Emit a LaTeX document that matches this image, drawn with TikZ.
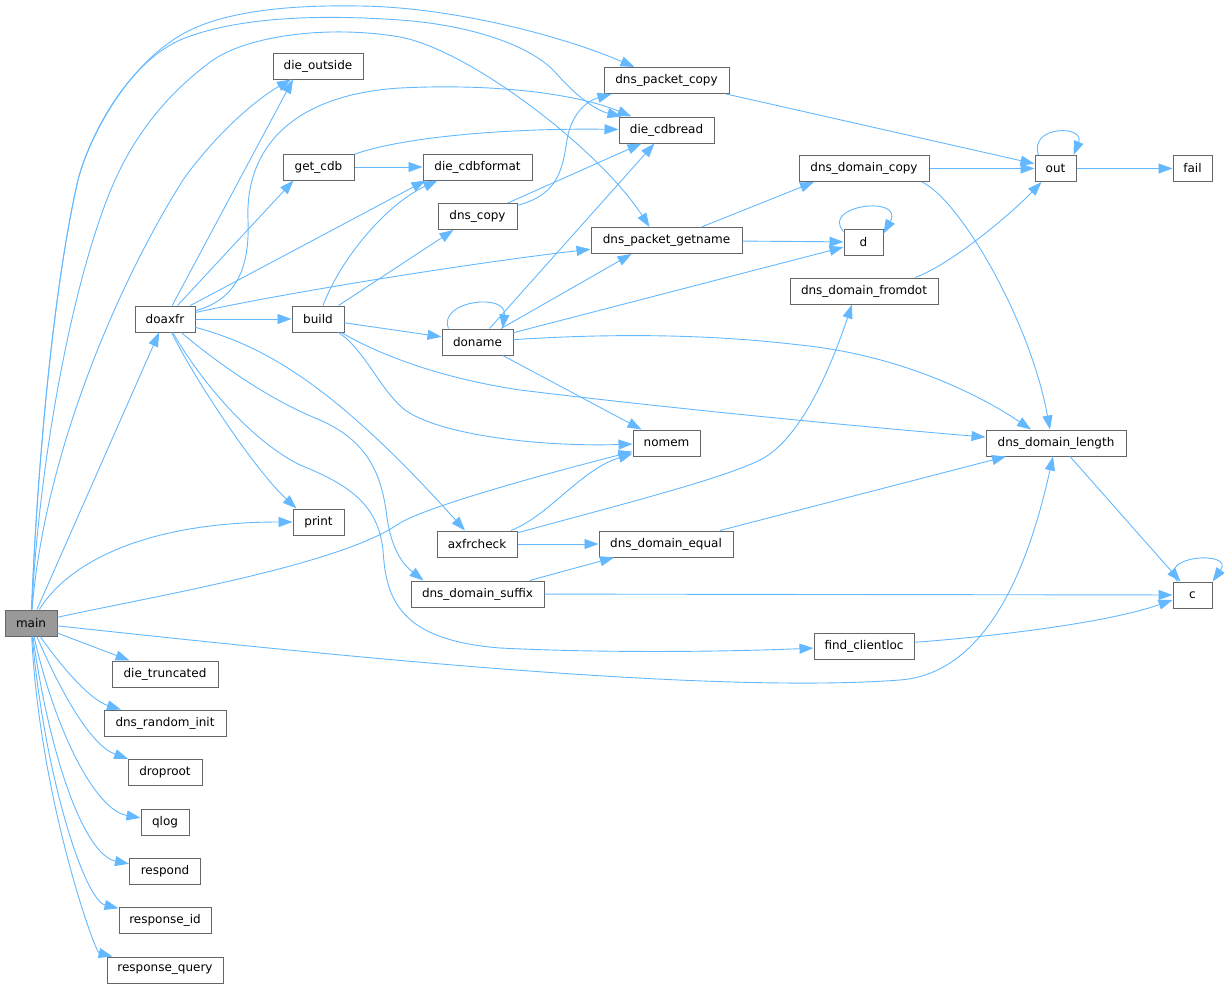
\documentclass[tikz,border=0pt]{standalone}
\usepackage{fontspec}
\setmainfont{DejaVu Sans}
\usetikzlibrary{arrows.meta}
\definecolor{edgeblue}{HTML}{63B8FF}
\definecolor{nodegray}{HTML}{666666}
\definecolor{mainfill}{HTML}{999999}
\tikzset{
  fn/.style={draw=nodegray, fill=white, line width=1pt, minimum height=26pt, inner sep=0pt, font=\fontsize{12}{14}\selectfont},
  edge/.style={draw=edgeblue, line width=0.9pt, -{Triangle[length=14pt,width=10pt,fill=edgeblue]}}
}
\begin{document}
\begin{tikzpicture}[x=1pt,y=-1pt]
\useasboundingbox (0,0) rectangle (1224,988);
% nodes
\node[fn, fill=mainfill, minimum width=52pt] (main) at (31,623) {main};
\node[fn, minimum width=60pt] (doaxfr) at (165,319) {doaxfr};
\node[fn, minimum width=90pt] (dieout) at (318,66) {die\_outside};
\node[fn, minimum width=71pt] (getcdb) at (318.5,167) {get\_cdb};
\node[fn, minimum width=52pt] (build) at (318,319) {build};
\node[fn, minimum width=51pt] (print) at (318.5,522) {print};
\node[fn, minimum width=106pt] (dietrunc) at (165,674) {die\_truncated};
\node[fn, minimum width=122pt] (dnsrand) at (165,723) {dns\_random\_init};
\node[fn, minimum width=74pt] (droproot) at (165,772.5) {droproot};
\node[fn, minimum width=48pt] (qlog) at (165,822) {qlog};
\node[fn, minimum width=71pt] (respond) at (165,871) {respond};
\node[fn, minimum width=92pt] (respid) at (165,920) {response\_id};
\node[fn, minimum width=116pt] (respquery) at (165,970) {response\_query};
\node[fn, minimum width=125pt] (pktcopy) at (666.5,80.5) {dns\_packet\_copy};
\node[fn, minimum width=95pt] (cdbread) at (666.5,130) {die\_cdbread};
\node[fn, minimum width=109pt] (cdbformat) at (477.5,167) {die\_cdbformat};
\node[fn, minimum width=79pt] (dnscopy) at (477.5,216.5) {dns\_copy};
\node[fn, minimum width=151pt] (getname) at (666.5,240.5) {dns\_packet\_getname};
\node[fn, minimum width=71pt] (doname) at (477.5,342) {doname};
\node[fn, minimum width=67pt] (nomem) at (666.5,443) {nomem};
\node[fn, minimum width=80pt] (axfrcheck) at (477,544) {axfrcheck};
\node[fn, minimum width=134pt] (dequal) at (666,544) {dns\_domain\_equal};
\node[fn, minimum width=133pt] (dsuffix) at (477.5,594) {dns\_domain\_suffix};
\node[fn, minimum width=130pt] (dcopy) at (864,168.5) {dns\_domain\_copy};
\node[fn, minimum width=41pt] (out) at (1055.5,168.5) {out};
\node[fn, minimum width=39pt] (fail) at (1192.5,168.5) {fail};
\node[fn, minimum width=39pt] (dd) at (863.5,242) {d};
\node[fn, minimum width=148pt] (fromdot) at (864,291) {dns\_domain\_fromdot};
\node[fn, minimum width=100pt] (findcl) at (864,646) {find\_clientloc};
\node[fn, minimum width=140pt] (dlength) at (1056,443) {dns\_domain\_length};
\node[fn, minimum width=39pt] (cc) at (1192.5,595) {c};
% main edges
\draw[edge] (main) -- (doaxfr);
\draw[edge] (main) .. controls (70,560) and (150,522) .. (print);
\draw[edge] (main) .. controls (160,595) and (340,565) .. (400,523) .. controls (430,505) and (560,470) .. (nomem);
\draw[edge] (main) .. controls (300,652) and (700,695) .. (900,680) .. controls (990,673) and (1030,560) .. (dlength);
\draw[edge] (main) -- (dietrunc);
\draw[edge] (main) .. controls (60,665) and (90,700) .. (dnsrand);
\draw[edge] (main) .. controls (60,690) and (90,745) .. (droproot);
\draw[edge] (main) .. controls (55,730) and (95,810) .. (qlog);
\draw[edge] (main) .. controls (50,760) and (85,855) .. (respond);
\draw[edge] (main) .. controls (45,780) and (85,900) .. (respid);
\draw[edge] (main) .. controls (40,800) and (95,952) .. (respquery);
\draw[edge] (main) .. controls (38,450) and (55,280) .. (78,180) .. controls (88,140) and (130,55) .. (197,27) .. controls (240,9) and (300,5) .. (360,6) .. controls (450,7) and (560,35) .. ([xshift=-32pt]pktcopy.north);
\draw[edge] (main) .. controls (38,450) and (55,280) .. (78,180) .. controls (88,140) and (125,65) .. (180,40) .. controls (240,15) and (330,15) .. (400,20) .. controls (470,25) and (530,45) .. (555,72) .. controls (575,95) and (595,110) .. ([xshift=-45pt]cdbread.north);
\draw[edge] (main) .. controls (40,450) and (75,270) .. (115,180) .. controls (135,136) and (165,95) .. (213,60) .. controls (250,35) and (330,25) .. (400,37) .. controls (470,50) and (600,150) .. ([xshift=-17pt]getname.north);
\draw[edge] (main) .. controls (45,450) and (120,280) .. (183,180) .. controls (215,135) and (255,100) .. ([xshift=-27pt]dieout.south);
% doaxfr edges
\draw[edge] (doaxfr) -- ([xshift=-25pt]dieout.south);
\draw[edge] (doaxfr) -- ([xshift=-25pt]getcdb.south);
\draw[edge] (doaxfr) -- ([xshift=-52pt]cdbformat.south);
\draw[edge] (doaxfr) .. controls (235,300) and (250,270) .. (248,220) .. controls (245,150) and (290,95) .. (400,88) .. controls (500,83) and (580,95) .. ([xshift=-35pt]cdbread.north);
\draw[edge] (doaxfr) -- (build);
\draw[edge] (doaxfr) .. controls (300,290) and (480,262) .. (getname);
\draw[edge] (doaxfr) .. controls (195,380) and (255,470) .. ([xshift=-22pt]print.north);
\draw[edge] (doaxfr) .. controls (260,345) and (330,380) .. (axfrcheck);
\draw[edge] (doaxfr) .. controls (220,365) and (270,400) .. (320,420) .. controls (365,440) and (380,470) .. (386,510) .. controls (390,545) and (400,562) .. ([xshift=-54pt]dsuffix.north);
\draw[edge] (doaxfr) .. controls (200,380) and (250,440) .. (300,465) .. controls (350,485) and (378,505) .. (383,550) .. controls (386,600) and (400,640) .. (500,648) .. controls (600,653) and (720,652) .. (findcl);
% build edges
\draw[edge] (build) .. controls (340,260) and (385,205) .. ([xshift=-40pt]cdbformat.south);
\draw[edge] (build) -- ([xshift=-24pt]dnscopy.south);
\draw[edge] (build) -- (doname);
\draw[edge] (build) .. controls (365,350) and (380,390) .. (405,410) .. controls (440,435) and (540,447) .. (nomem);
\draw[edge] (build) .. controls (380,355) and (440,378) .. (520,390) .. controls (700,412) and (900,430) .. (dlength);
% get_cdb
\draw[edge] (getcdb) -- (cdbformat);
\draw[edge] (getcdb) .. controls (400,138) and (500,128) .. (cdbread);
% dns_copy
\draw[edge] (dnscopy) .. controls (555,195) and (562,175) .. (567,140) .. controls (572,110) and (590,100) .. ([xshift=-55pt]pktcopy.south);
\draw[edge] (dnscopy) -- ([xshift=-25pt]cdbread.south);
% doname
\draw[edge] ([xshift=-29pt]doname.north) .. controls ([xshift=-40pt,yshift=28pt]doname.north) and ([xshift=30pt,yshift=36pt]doname.north) .. ([xshift=25pt]doname.north);
\draw[edge] ([xshift=12pt]doname.north) -- ([xshift=-12pt]cdbread.south);
\draw[edge] (doname) -- ([xshift=-35pt]getname.south);
\draw[edge] (doname) -- (dd);
\draw[edge] (doname) .. controls (600,334) and (700,333) .. (800,345) .. controls (900,355) and (980,395) .. ([xshift=-25pt]dlength.north);
\draw[edge] (doname) -- ([xshift=-25pt]nomem.north);
% dns_packet_getname
\draw[edge] ([xshift=35pt]getname.north) -- ([xshift=-50pt]dcopy.south);
\draw[edge] (getname) -- (dd);
% right part
\draw[edge] (pktcopy) -- (out);
\draw[edge] (dcopy) -- (out);
\draw[edge] ([xshift=58pt]dcopy.south) .. controls (960,200) and (1030,320) .. ([xshift=-6pt]dlength.north);
\draw[edge] ([xshift=-17pt]out.north) .. controls ([xshift=-27pt,yshift=30pt]out.north) and ([xshift=30pt,yshift=30pt]out.north) .. ([xshift=18pt]out.north);
\draw[edge] (out) -- (fail);
\draw[edge] ([yshift=-3pt]dd.north west) .. controls (820,205) and (905,195) .. ([yshift=-5pt]dd.north east);
\draw[edge] ([xshift=51pt]fromdot.north) .. controls (950,265) and (1010,215) .. ([xshift=-14pt]out.south);
% axfrcheck
\draw[edge] (axfrcheck) .. controls (600,510) and (720,480) .. (760,460) .. controls (800,440) and (830,370) .. ([xshift=-12pt]fromdot.south);
\draw[edge] (axfrcheck) .. controls (550,515) and (580,470) .. (nomem);
\draw[edge] (axfrcheck) -- (dequal);
% dns_domain_suffix
\draw[edge] ([xshift=52pt]dsuffix.north) -- ([xshift=-52pt]dequal.south);
\draw[edge] (dsuffix) -- (cc);
\draw[edge] ([xshift=54pt]dequal.north) -- ([xshift=-50pt]dlength.south);
\draw[edge] ([xshift=14pt]dlength.south) -- ([xshift=-12pt]cc.north);
\draw[edge] (findcl) .. controls (1000,636) and (1110,622) .. ([yshift=-5pt]cc.west);
\draw[edge] ([xshift=-15pt]cc.north) .. controls (1155,555) and (1235,550) .. (cc.north east);
\end{tikzpicture}
\end{document}
